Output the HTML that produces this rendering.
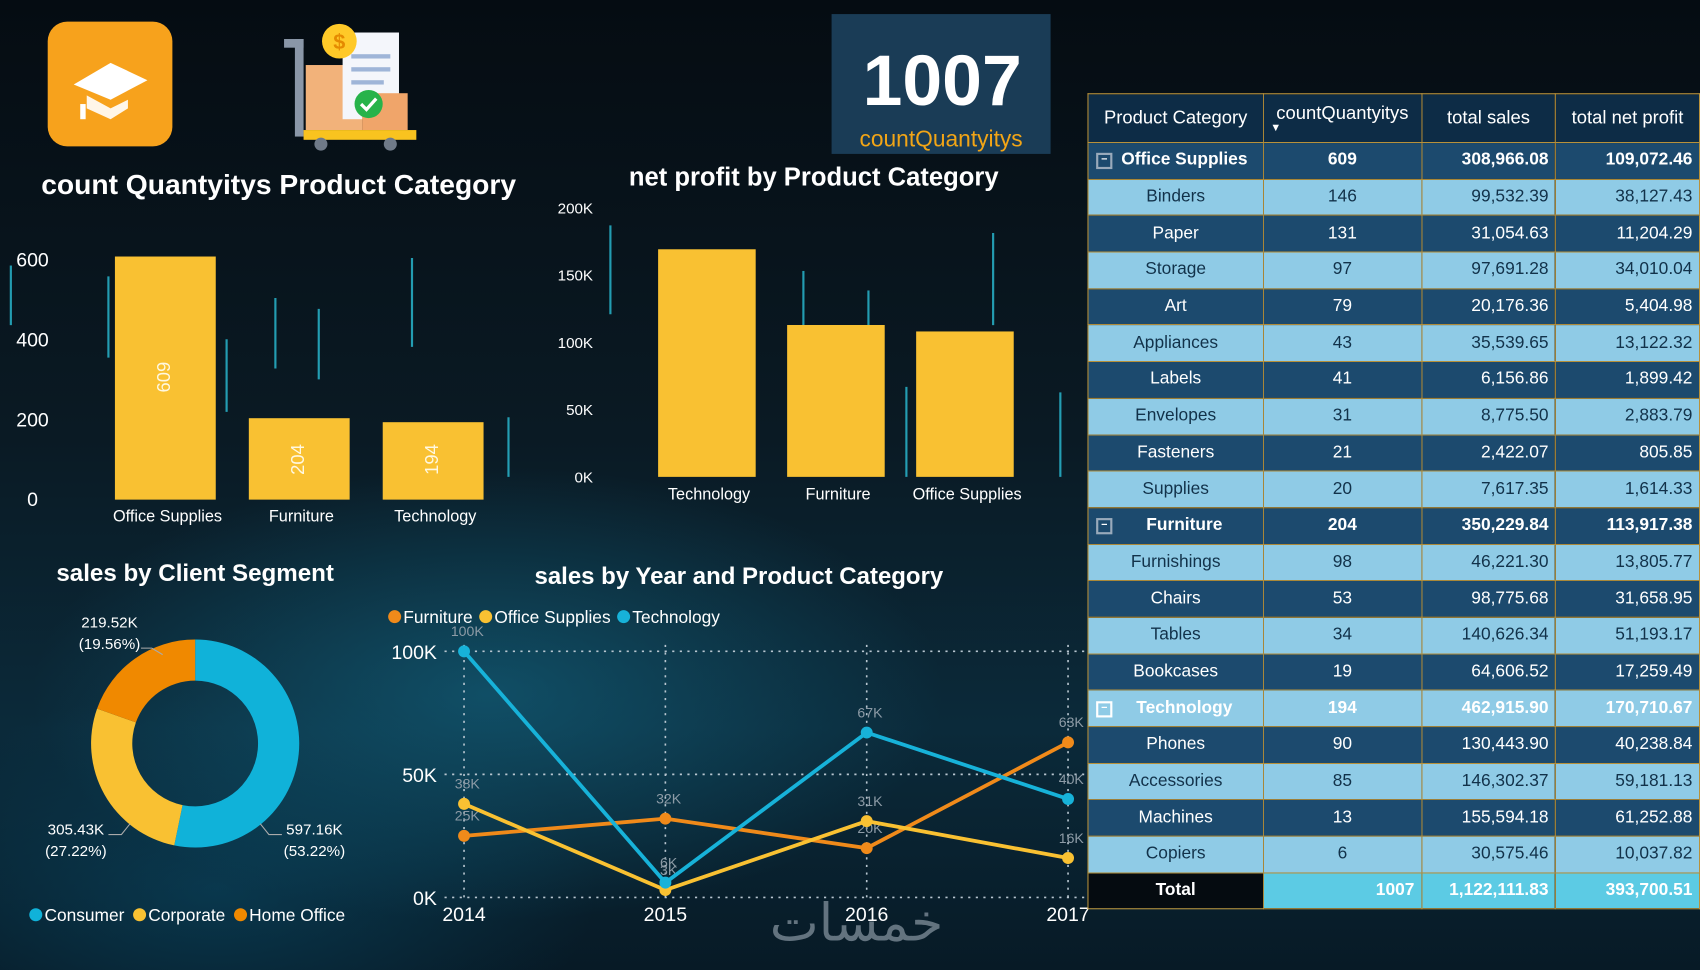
<!DOCTYPE html>
<html><head><meta charset="utf-8">
<style>
html,body{margin:0;padding:0;width:1700px;height:970px;overflow:hidden;background:#07141d;}
#wrap{position:absolute;left:0;top:0;width:1568px;height:895px;transform:scale(1.0842,1.0838);transform-origin:0 0;font-family:"Liberation Sans","DejaVu Sans",sans-serif;
background:radial-gradient(ellipse 600px 300px at 450px 640px,rgba(20,110,140,.55),rgba(0,0,0,0) 70%),radial-gradient(ellipse 500px 260px at 200px 820px,rgba(10,80,110,.5),rgba(0,0,0,0) 70%),linear-gradient(180deg,#050c12 0%,#0a1a24 45%,#0b2a3a 75%,#071a26 100%);}
svg text{font-family:"Liberation Sans","DejaVu Sans",sans-serif;}
#tbl{position:absolute;left:1003px;top:86px;border-collapse:collapse;font-size:16px;}
#tbl td{border:1.5px solid #b8913a;padding:0 6px;height:32.7px;text-align:right;white-space:nowrap;position:relative;}
#tbl td.c{text-align:center;}
#tbl tr.h td{background:#0d2c46;color:#fff;height:44px;text-align:center;font-size:17px;}
#tbl tr.d td{background:#1c4a6e;color:#fff;}
#tbl tr.l td{background:#8fcbe6;color:#12324a;}
#tbl tr.g td{font-weight:bold;}
#tbl tr.g.l td{color:#fff;}
#tbl tr.t td{background:#5ccbe4;color:#fff;font-weight:bold;}
#tbl tr.t td:first-child{background:#050b10;text-align:center;}
.box{position:absolute;left:7px;top:50%;margin-top:-7px;width:11px;height:11px;border:2px solid #9ab;font-size:10px;line-height:10px;text-align:center;}
</style></head><body>
<div id="wrap">
<svg id="svg" width="1568" height="895" style="position:absolute;left:0;top:0">
 <g stroke="#2fd6f0" stroke-width="2" opacity=".7">
  <line x1="100" y1="255" x2="100" y2="330"/><line x1="209" y1="313" x2="209" y2="380"/><line x1="254" y1="275" x2="254" y2="340"/><line x1="294" y1="285" x2="294" y2="350"/><line x1="380" y1="238" x2="380" y2="320"/><line x1="469" y1="385" x2="469" y2="440"/><line x1="563" y1="208" x2="563" y2="290"/><line x1="741" y1="250" x2="741" y2="300"/><line x1="801" y1="268" x2="801" y2="300"/><line x1="916" y1="215" x2="916" y2="300"/><line x1="836" y1="357" x2="836" y2="440"/><line x1="978" y1="362" x2="978" y2="440"/><line x1="10" y1="245" x2="10" y2="300"/>
 </g>
 <g>
  <rect x="44" y="20" width="115" height="115" rx="18" fill="#f7a21c"/>
  <path d="M68 78 L102 58 L136 74 L102 92 Z" fill="#fff"/>
  <path d="M80 88 L80 100 L102 110 L118 100 L118 92 L102 100 Z" fill="#fff" opacity=".9"/>
  <rect x="74" y="96" width="5" height="14" fill="#fff"/>
 </g>
 <g>
  <rect x="262" y="36" width="18" height="8" fill="#8a97a8"/>
  <rect x="272" y="36" width="8" height="90" fill="#8a97a8"/>
  <rect x="282" y="60" width="52" height="60" fill="#f2b27a"/>
  <rect x="316" y="30" width="52" height="80" fill="#f4f6fb"/>
  <rect x="324" y="50" width="36" height="4" fill="#9fb5d8"/><rect x="324" y="62" width="36" height="4" fill="#9fb5d8"/><rect x="324" y="74" width="30" height="4" fill="#9fb5d8"/>
  <rect x="334" y="86" width="42" height="34" fill="#f0a56a"/>
  <circle cx="313" cy="38" r="16" fill="#ffc928"/><text x="313" y="45" text-anchor="middle" fill="#e58a00" font-size="20" font-weight="bold">$</text>
  <circle cx="340" cy="96" r="13" fill="#27b34a"/><path d="M333 96 L338 101 L347 91" stroke="#fff" stroke-width="3" fill="none"/>
  <rect x="280" y="120" width="104" height="9" fill="#f9c31f"/>
  <circle cx="296" cy="133" r="6" fill="#6f7a88"/><circle cx="360" cy="133" r="6" fill="#6f7a88"/>
 </g>
 <g>
  <rect x="767" y="13" width="202" height="129" fill="#1a3c56"/>
  <text x="869" y="97" text-anchor="middle" fill="#fff" font-size="66" font-weight="bold">1007</text>
  <text x="868" y="135" text-anchor="middle" fill="#f2a516" font-size="21">countQuantyitys</text>
 </g>
 <text x="38" y="179" fill="#fff" font-size="26" font-weight="bold" textLength="438" lengthAdjust="spacingAndGlyphs">count Quantyitys Product Category</text>
 <text x="580" y="171" fill="#fff" font-size="24" font-weight="bold" textLength="341" lengthAdjust="spacingAndGlyphs">net profit by Product Category</text>
 <text x="52" y="536" fill="#fff" font-size="22" font-weight="bold" textLength="256" lengthAdjust="spacingAndGlyphs">sales by Client Segment</text>
 <text x="493" y="539" fill="#fff" font-size="22" font-weight="bold" textLength="377" lengthAdjust="spacingAndGlyphs">sales by Year and Product Category</text>
 <g id="bar1"></g><g id="bar2"></g><g id="donut"></g><g id="line"></g>
 <text x="790" y="868" text-anchor="middle" fill="#8a98a4" font-size="48" opacity=".7" font-family="DejaVu Sans,sans-serif">خمسات</text>
</svg>
<table id="tbl">
 <colgroup><col style="width:162px"><col style="width:146px"><col style="width:124px"><col style="width:133px"></colgroup>
 <tbody id="tbody"></tbody>
</table>
</div>
<script>
const NS='http://www.w3.org/2000/svg';
function mk(p,tag,attrs,txt){const e=document.createElementNS(NS,tag);for(const k in attrs)e.setAttribute(k,attrs[k]);if(txt!==undefined)e.textContent=txt;p.appendChild(e);return e;}

// ---- bar chart 1 data
const countCats=['Office Supplies','Furniture','Technology'];
const countVals=[609,204,194];
const countTicks=[0,200,400,600];
// ---- bar chart 2 data
const profitCats=['Technology','Furniture','Office Supplies'];
const profitVals=[170710.67,113917.38,109072.46];
const profitTickLabels=['0K','50K','100K','150K','200K'];
// ---- donut data
const segNames=['Consumer','Corporate','Home Office'];
const segVals=[597.16,305.43,219.52];
const segPct=['53.22%','27.22%','19.56%'];
// ---- line chart data
const years=['2014','2015','2016','2017'];
const furnSales=[25,32,20,63];
const osSales=[38,3,31,16];
const techSales=[100,6,67,40];
const lineTicks=[0,50,100];

// bar1
(function(){const g=document.getElementById('bar1');
 
 const y0=461,y=v=>y0-v*(221/600);
 countTicks.forEach(t=>{const e=mk(g,'text',{x:30,y:y(t)+6,'text-anchor':'middle',fill:'#fff','font-size':18},String(t));
  });
 countCats.forEach((c,i)=>{const x=106+i*123.5,w=93;
  const r=mk(g,'rect',{x:x,y:y(countVals[i]),width:w,height:y0-y(countVals[i]),fill:'#f9c132'});
  
  const cx=x+w/2,ly=i==0?348:424;
  const lbl=mk(g,'text',{x:cx,y:ly,'text-anchor':'middle',fill:'#fff8e0','font-size':17,transform:`rotate(-90 ${cx} ${ly})`,'dominant-baseline':'middle'},String(countVals[i]));
  
  const t=mk(g,'text',{x:cx+2,y:481,'text-anchor':'middle',fill:'#fff','font-size':15},c);
  });
})();
// bar2
(function(){const g=document.getElementById('bar2');
 
 const y0=440,y=v=>y0-v*(210/170710);
 profitTickLabels.forEach((t,i)=>{const e=mk(g,'text',{x:547,y:y0-i*62+5,'text-anchor':'end',fill:'#fff','font-size':14},t);
  });
 profitCats.forEach((c,i)=>{const x=607+i*119,w=90;
  const r=mk(g,'rect',{x:x,y:y(profitVals[i]),width:w,height:y0-y(profitVals[i]),fill:'#f9c132'});
  
  const t=mk(g,'text',{x:x+w/2+2,y:461,'text-anchor':'middle',fill:'#fff','font-size':15},c);
  });
})();
// donut
(function(){const g=document.getElementById('donut');
 
 const cx=180,cy=686,R=96,r=58,cols=['#10b2d9','#f9c132','#f08900'];
 const tot=segVals.reduce((a,b)=>a+b,0);let a=-Math.PI/2;
 segVals.forEach((v,i)=>{const a2=a+v/tot*2*Math.PI,lg=(a2-a)>Math.PI?1:0;
  const p=(ang,rr)=>[cx+rr*Math.cos(ang),cy+rr*Math.sin(ang)];
  const [x1,y1]=p(a,R),[x2,y2]=p(a2,R),[x3,y3]=p(a2,r),[x4,y4]=p(a,r);
  const s=mk(g,'path',{d:`M${x1} ${y1} A${R} ${R} 0 ${lg} 1 ${x2} ${y2} L${x3} ${y3} A${r} ${r} 0 ${lg} 0 ${x4} ${y4}Z`,fill:cols[i]});
  
  a=a2;});
 const lp=[[290,770],[70,770],[101,579]];
 segVals.forEach((v,i)=>{const t=mk(g,'text',{x:lp[i][0],y:lp[i][1],'text-anchor':'middle',fill:'#fff','font-size':14},v.toFixed(2)+'K');
  
  const t2=mk(g,'text',{x:lp[i][0],y:lp[i][1]+20,'text-anchor':'middle',fill:'#fff','font-size':14},'('+segPct[i]+')');
  });
 mk(g,'path',{d:'M240 760 L248 770 L260 770',stroke:'#aaa',fill:'none'});
 mk(g,'path',{d:'M120 760 L112 770 L100 770',stroke:'#aaa',fill:'none'});
 mk(g,'path',{d:'M150 604 L140 598 L130 598',stroke:'#aaa',fill:'none'});
 let lx=27;segNames.forEach((n,i)=>{mk(g,'circle',{cx:lx+6,cy:844,r:6,fill:cols[i]});
  const t=mk(g,'text',{x:lx+14,y:850,fill:'#fff','font-size':16},n);
  
  lx+=14+t.getComputedTextLength()+8;});
})();
// line
(function(){const g=document.getElementById('line');
 
 const X=i=>428+i*185.7,Y=v=>828-v*2.27;
 lineTicks.forEach(t=>{mk(g,'line',{x1:410,x2:1000,y1:Y(t),y2:Y(t),stroke:'#b8c6d0','stroke-dasharray':'2 5','stroke-width':1.5});
  const e=mk(g,'text',{x:403,y:Y(t)+7,'text-anchor':'end',fill:'#fff','font-size':18},t+'K');
  });
 years.forEach((yr,i)=>{mk(g,'line',{x1:X(i),x2:X(i),y1:595,y2:828,stroke:'#b8c6d0','stroke-dasharray':'2 5','stroke-width':1.5});
  const e=mk(g,'text',{x:X(i),y:850,'text-anchor':'middle',fill:'#fff','font-size':18},yr);
  });
 const series=[['furniture',furnSales,'#f08a1a'],['office-supplies',osSales,'#f9c132'],['technology',techSales,'#17b2d9']];
 series.forEach(([n,vals,c])=>{const pl=mk(g,'polyline',{points:vals.map((v,i)=>X(i)+','+Y(v)).join(' '),fill:'none',stroke:c,'stroke-width':3.5});
  
  vals.forEach((v,i)=>{const d=mk(g,'circle',{cx:X(i),cy:Y(v),r:5.5,fill:c});
   
   const t=mk(g,'text',{x:X(i)+3,y:Y(v)-14,'text-anchor':'middle',fill:'#8d9ba6','font-size':13},v+'K');
   });});
 let lx=358;series.forEach(([n,v,c],i)=>{mk(g,'circle',{cx:lx+6,cy:569,r:6,fill:c});
  const t=mk(g,'text',{x:lx+14,y:575,fill:'#fff','font-size':16},['Furniture','Office Supplies','Technology'][i]);
  
  lx+=14+t.getComputedTextLength()+6;});
})();
// table
const tblRows=[
['h','Product Category','countQuantyitys','total sales','total net profit'],
['g d','Office Supplies','609','308,966.08','109,072.46'],
['l','Binders','146','99,532.39','38,127.43'],
['d','Paper','131','31,054.63','11,204.29'],
['l','Storage','97','97,691.28','34,010.04'],
['d','Art','79','20,176.36','5,404.98'],
['l','Appliances','43','35,539.65','13,122.32'],
['d','Labels','41','6,156.86','1,899.42'],
['l','Envelopes','31','8,775.50','2,883.79'],
['d','Fasteners','21','2,422.07','805.85'],
['l','Supplies','20','7,617.35','1,614.33'],
['g d','Furniture','204','350,229.84','113,917.38'],
['l','Furnishings','98','46,221.30','13,805.77'],
['d','Chairs','53','98,775.68','31,658.95'],
['l','Tables','34','140,626.34','51,193.17'],
['d','Bookcases','19','64,606.52','17,259.49'],
['g l','Technology','194','462,915.90','170,710.67'],
['d','Phones','90','130,443.90','40,238.84'],
['l','Accessories','85','146,302.37','59,181.13'],
['d','Machines','13','155,594.18','61,252.88'],
['l','Copiers','6','30,575.46','10,037.82'],
['t','Total','1007','1,122,111.83','393,700.51']];
const tb=document.getElementById('tbody');
tblRows.forEach(r=>{const tr=document.createElement('tr');tr.className=r[0];
 
 
 r.slice(1).forEach((c,j)=>{const td=document.createElement('td');
  if(r[0]=='h'){td.innerHTML=c+(j==1?'<div style="font-size:10px;text-align:left;line-height:8px">▼</div>':'');}
  else if(r[0].startsWith('g')&&j==0){td.innerHTML='<span class="box" style="border-color:'+(r[0]=='g l'?'#fff':'#9ab')+'">−</span>'+c;td.style.paddingLeft='22px';}
  else {td.textContent=c;}
  if(j==0&&r[0]!='h')td.classList.add('c');
  if(j==1&&r[0]!='h'&&r[0]!='t')td.classList.add('c');
  
  
  tr.appendChild(td);});
 tb.appendChild(tr);});
</script>
</body></html>
